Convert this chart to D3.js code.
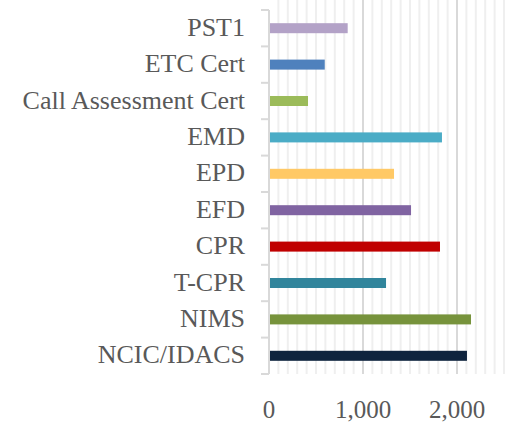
<!DOCTYPE html>
<html><head><meta charset="utf-8">
<script src="https://cdn.jsdelivr.net/npm/d3@7"></script>
<style>html,body{margin:0;padding:0;background:#fff;}svg{display:block;}</style>
</head><body>
<svg id="chart" width="508" height="422"></svg>
<script>
const categories = ["PST1","ETC Cert","Call Assessment Cert","EMD","EPD","EFD","CPR","T-CPR","NIMS","NCIC/IDACS"];
const values = [837, 593, 415, 1840, 1330, 1511, 1819, 1245, 2149, 2106];
const colors = ["#b3a2c7","#4f81bd","#9bbb59","#4bacc6","#ffc966","#8064a2","#c00000","#31859c","#77933c","#0f243e"];
const xTicks = [0, 1000, 2000];
const xMax = 2500;

const svg = d3.select("#chart");
const mLeft = 269, mRight = 504, mTop = 10, mBottom = 374;
const x = d3.scaleLinear().domain([0, xMax]).range([mLeft, mRight]);
const y = d3.scaleBand().domain(categories).range([mTop, mBottom]).padding(0);

// minor gridlines
const minor = d3.range(100, xMax + 1, 100).filter(v => v % 1000 !== 0);
svg.append("g").selectAll("line").data(minor).join("line")
  .attr("x1", d => x(d)).attr("x2", d => x(d))
  .attr("y1", 0).attr("y2", mBottom)
  .attr("stroke", "#efefef").attr("stroke-width", 2);
// major gridlines
svg.append("g").selectAll("line").data(xTicks.filter(d => d > 0)).join("line")
  .attr("x1", d => x(d)).attr("x2", d => x(d))
  .attr("y1", 0).attr("y2", mBottom)
  .attr("stroke", "#d9d9d9").attr("stroke-width", 2);

// bars
const bh = y.bandwidth() * 0.275;
svg.append("g").selectAll("rect").data(categories).join("rect")
  .attr("x", x(0))
  .attr("y", d => y(d) + y.bandwidth() / 2 - bh / 2)
  .attr("width", (d, i) => x(values[i]) - x(0))
  .attr("height", bh)
  .attr("fill", (d, i) => colors[i]);

// y axis line and ticks
const yAxis = svg.append("g");
yAxis.append("line").attr("x1", mLeft).attr("x2", mLeft).attr("y1", mTop).attr("y2", mBottom)
  .attr("stroke", "#d9d9d9").attr("stroke-width", 2);
const bounds = categories.map(c => y(c)).concat([mBottom]);
yAxis.selectAll("line.t").data(bounds).join("line").attr("class", "t")
  .attr("x1", mLeft - 8).attr("x2", mLeft).attr("y1", d => d).attr("y2", d => d)
  .attr("stroke", "#d9d9d9").attr("stroke-width", 2);
yAxis.selectAll("text").data(categories).join("text")
  .attr("x", 245).attr("y", d => y(d) + y.bandwidth() / 2 - 1)
  .attr("text-anchor", "end").attr("dominant-baseline", "central")
  .attr("font-family", "Liberation Serif, serif").attr("font-size", 26)
  .attr("fill", "#595959").text(d => d);

// x tick labels
const fmt = d3.format(",");
svg.append("g").selectAll("text").data(xTicks).join("text")
  .attr("x", d => x(d)).attr("y", 418)
  .attr("text-anchor", "middle")
  .attr("font-family", "Liberation Serif, serif").attr("font-size", 25)
  .attr("fill", "#595959").text(d => fmt(d));
</script>
</body></html>
